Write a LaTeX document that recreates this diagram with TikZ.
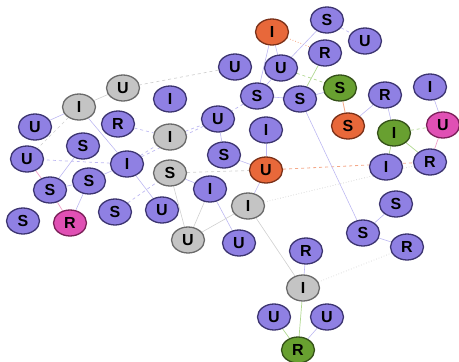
\documentclass[tikz,border=0pt]{standalone}
\usepackage{fontspec}
\setmainfont{Liberation Sans}
\usetikzlibrary{shapes.geometric,backgrounds}
\definecolor{pfill}{HTML}{8F80E3}
\definecolor{pdraw}{HTML}{3C3470}
\definecolor{ofill}{HTML}{E8683A}
\definecolor{odraw}{HTML}{7A3018}
\definecolor{gfill}{HTML}{C4C4C4}
\definecolor{gdraw}{HTML}{6A6A6A}
\definecolor{nfill}{HTML}{68A030}
\definecolor{ndraw}{HTML}{345018}
\definecolor{mfill}{HTML}{E050B4}
\definecolor{mdraw}{HTML}{7A2058}
\definecolor{epu}{HTML}{BDB8F2}
\definecolor{egr}{HTML}{D0D0D0}
\definecolor{eor}{HTML}{F4A888}
\definecolor{egn}{HTML}{B0D890}
\definecolor{epk}{HTML}{F0A0C8}
\tikzset{
  nd/.style={ellipse, minimum width=33pt, minimum height=26pt, inner sep=0pt, line width=1.3pt,
    font=\fontsize{16}{16}\selectfont\bfseries},
  pu/.style={nd, fill=pfill, draw=pdraw},
  orn/.style={nd, fill=ofill, draw=odraw},
  gy/.style={nd, fill=gfill, draw=gdraw},
  gn/.style={nd, fill=nfill, draw=ndraw},
  mg/.style={nd, fill=mfill, draw=mdraw},
  ep/.style={draw=epu, line width=0.6pt},
  epd/.style={draw=epu, line width=0.7pt, dashed},
  eg/.style={draw=egr, line width=0.6pt},
  egd/.style={draw=egr, line width=0.7pt, dashed},
  eo/.style={draw=eor, line width=0.8pt, dashed},
  eos/.style={draw=eor, line width=0.8pt},
  en/.style={draw=egn, line width=0.7pt},
  end/.style={draw=egn, line width=0.7pt, dashed},
  ek/.style={draw=epk, line width=0.7pt}
}
\begin{document}
\begin{tikzpicture}[x=1pt,y=-1pt]
\useasboundingbox (0,0) rectangle (459,362);
% nodes
\node[orn] (n1) at (272,32) {I};
\node[pu] (n2) at (327,20) {S};
\node[pu] (n3) at (365,41) {U};
\node[pu] (n4) at (325,53) {R};
\node[pu] (n5) at (235,67) {U};
\node[pu] (n6) at (281,68) {U};
\node[gy] (n7) at (123,88) {U};
\node[gy] (n8) at (79,107) {I};
\node[pu] (n9) at (170,99) {I};
\node[pu] (n10) at (257,96) {S};
\node[pu] (n11) at (300,99) {S};
\node[gn] (n12) at (340,88) {S};
\node[pu] (n13) at (385,95) {R};
\node[pu] (n14) at (430,87) {I};
\node[orn] (n15) at (348,126) {S};
\node[gn] (n16) at (394,133) {I};
\node[mg] (n17) at (443,125) {U};
\node[pu] (n18) at (35,127) {U};
\node[pu] (n19) at (118,124) {R};
\node[gy] (n20) at (170,137) {I};
\node[pu] (n21) at (218,119) {U};
\node[pu] (n22) at (266,130) {I};
\node[pu] (n23) at (83,146) {S};
\node[pu] (n24) at (27,159) {U};
\node[pu] (n25) at (127,164) {I};
\node[gy] (n26) at (170,173) {S};
\node[pu] (n27) at (224,155) {S};
\node[orn] (n28) at (266,170) {U};
\node[pu] (n29) at (386,167) {I};
\node[pu] (n30) at (430,162) {R};
\node[pu] (n31) at (50,190) {S};
\node[pu] (n32) at (89,181) {S};
\node[pu] (n33) at (210,189) {I};
\node[gy] (n34) at (248,206) {I};
\node[pu] (n35) at (396,204) {S};
\node[pu] (n36) at (23,221) {S};
\node[mg] (n37) at (70,223) {R};
\node[pu] (n38) at (115,212) {S};
\node[pu] (n39) at (162,210) {U};
\node[gy] (n40) at (188,240) {U};
\node[pu] (n41) at (239,243) {U};
\node[pu] (n42) at (363,233) {S};
\node[pu] (n43) at (407,247) {R};
\node[pu] (n44) at (306,251) {R};
\node[gy] (n45) at (303,288) {I};
\node[pu] (n46) at (274,317) {U};
\node[pu] (n47) at (327,317) {U};
\node[gn] (n48) at (298,350) {R};
% edges
\begin{scope}[on background layer]
\draw[eo, dotted] (n1) -- (n4);
\draw[ep] (n1) -- (n10);
\draw[ep] (n1) -- (n6);
\draw[epd] (n2) -- (n3);
\draw[ep] (n2) -- (n6);
\draw[en] (n4) -- (n11);
\draw[end] (n6) -- (n12);
\draw[egd] (n5) -- (n7);
\draw[epd] (n10) -- (n21);
\draw[ep] (n10) -- (n11);
\draw[ep] (n6) -- (n10);
\draw[ep] (n11) -- (n12);
\draw[eos] (n12) -- (n15);
\draw[ep] (n13) -- (n15);
\draw[ep] (n13) -- (n16);
\draw[ep] (n14) -- (n17);
\draw[end] (n16) -- (n17);
\draw[en] (n16) -- (n30);
\draw[en] (n16) -- (n29);
\draw[ek] (n17) -- (n30);
\draw[eo] (n28) -- (n30);
\draw[ep] (n11) -- (n42);
\draw[ep] (n42) -- (n35);
\draw[ep] (n42) -- (n43);
\draw[egd, dotted] (n34) -- (n30);
\draw[egd, dotted] (n45) -- (n43);
\draw[ep] (n44) -- (n45);
\draw[en] (n45) -- (n48);
\draw[en] (n46) -- (n48);
\draw[ep] (n47) -- (n48);
\draw[eg] (n34) -- (n45);
\draw[ep] (n34) -- (n28);
\draw[ep] (n22) -- (n28);
\draw[ep] (n27) -- (n28);
\draw[egd] (n26) -- (n28);
\draw[eg] (n26) -- (n40);
\draw[ep] (n26) -- (n33);
\draw[eg] (n33) -- (n40);
\draw[ep] (n33) -- (n41);
\draw[eg] (n40) -- (n34);
\draw[ep] (n25) -- (n39);
\draw[epd] (n25) -- (n24);
\draw[ep] (n25) -- (n8);
\draw[epd] (n25) -- (n20);
\draw[epd] (n38) -- (n26);
\draw[ep] (n32) -- (n25);
\draw[ep] (n32) -- (n37);
\draw[ek] (n31) -- (n37);
\draw[ek] (n31) -- (n24);
\draw[ep] (n31) -- (n23);
\draw[ep] (n31) -- (n32);
\draw[ep] (n8) -- (n18);
\draw[egd] (n8) -- (n24);
\draw[eg] (n8) -- (n7);
\draw[epd] (n19) -- (n20);
\draw[epd] (n20) -- (n21);
\draw[ep] (n21) -- (n27);
\draw[epd] (n25) -- (n21);
\end{scope}
\end{tikzpicture}
\end{document}
